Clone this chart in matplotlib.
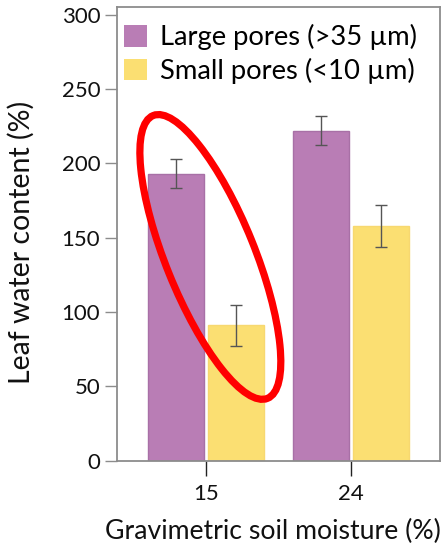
import matplotlib
matplotlib.use("Agg")
import matplotlib.pyplot as plt
import numpy as np
from matplotlib.patches import Ellipse, Patch
from matplotlib.transforms import ScaledTranslation

plt.rcParams['font.family'] = ['Lato', 'DejaVu Sans']

# Data
moisture_levels = ["15", "24"]
large_pores = [193, 222]
large_err = [9.7, 9.6]
small_pores = [91, 158]
small_err = [14, 14]
series_labels = ["Large pores (>35 µm)", "Small pores (<10 µm)"]

purple = "#B97DB5"
purple_edge = "#A870A6"
yellow = "#FBDF72"
yellow_edge = "#F7D870"
frame_gray = "#8C8C8C"

fig = plt.figure(figsize=(4.47, 5.45), dpi=100)
ax = fig.add_axes([0.2617, 0.1547, 0.7226, 0.8323])

x = np.arange(len(moisture_levels))
bw = 0.386
off = 0.21

ax.bar(x - off, large_pores, width=bw, color=purple, edgecolor=purple_edge,
       linewidth=1.0, zorder=2)
ax.bar(x + off, small_pores, width=bw, color=yellow, edgecolor=yellow_edge,
       linewidth=1.0, zorder=2)
ax.errorbar(x - off, large_pores, yerr=large_err, fmt="none", ecolor="#555555",
            elinewidth=1.0, capsize=4.3, capthick=1.0, zorder=3)
ax.errorbar(x + off, small_pores, yerr=small_err, fmt="none", ecolor="#555555",
            elinewidth=1.0, capsize=4.3, capthick=1.0, zorder=3)

ax.set_xlim(-0.614, 1.614)
ax.set_ylim(0, 305)
ax.set_yticks([0, 50, 100, 150, 200, 250, 300])
ax.set_xticks(x)
ax.set_xticklabels(moisture_levels)

for s in ax.spines.values():
    s.set_color(frame_gray)
    s.set_linewidth(1.3)

ax.tick_params(axis="y", direction="out", length=9, width=1.0, color=frame_gray,
               labelsize=16, pad=3, labelcolor="#111111")
ax.tick_params(axis="x", direction="out", length=11, width=1.0, color="#222222",
               labelsize=16, pad=6, labelcolor="#111111")

ax.set_ylabel("Leaf water content (%)", fontsize=20.5, color="#111111")
ax.yaxis.set_label_coords(-0.255, 0.482)
ax.set_xlabel("Gravimetric soil moisture (%)", fontsize=19.2, color="#111111")
ax.xaxis.set_label_coords(0.483, -0.129)

handles = [Patch(facecolor=purple, edgecolor="none"),
           Patch(facecolor=yellow, edgecolor="none")]
ax.legend(handles, series_labels, loc="upper left", frameon=False, fontsize=19.7,
          handlelength=0.85, handleheight=0.85, handletextpad=0.45,
          labelspacing=0.28, borderaxespad=0.0, borderpad=0.0,
          bbox_to_anchor=(0.0217, 0.9625))

# Highlight ring around the 15 % group
ring_tf = fig.dpi_scale_trans + ScaledTranslation(0.03, 137, ax.transData)
ring = Ellipse((0, 0), width=0.89, height=3.05, angle=22, transform=ring_tf,
               fill=False, edgecolor="#FF0000", linewidth=5.2, zorder=5,
               clip_on=False)
fig.add_artist(ring)

fig.savefig("out.png", dpi=100)
